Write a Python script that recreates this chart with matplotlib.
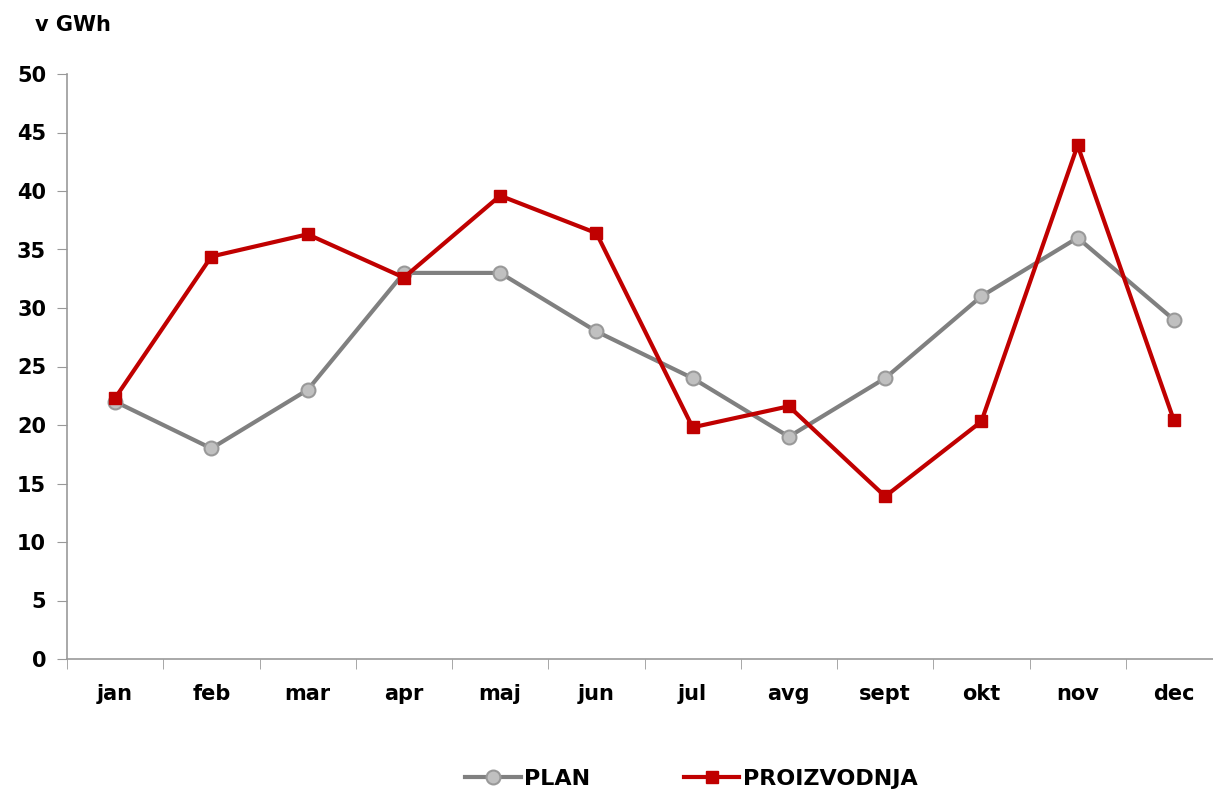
import matplotlib
matplotlib.use("Agg")
import matplotlib.pyplot as plt
import numpy as np

months = ["jan", "feb", "mar", "apr", "maj", "jun", "jul", "avg", "sept", "okt", "nov", "dec"]
plan = [22, 18, 23, 33, 33, 28, 24, 19, 24, 31, 36, 29]
proizvodnja = [22.3, 34.4, 36.3, 32.6, 39.6, 36.4, 19.8, 21.6, 13.9, 20.3, 43.9, 20.4]
yticks = [0, 5, 10, 15, 20, 25, 30, 35, 40, 45, 50]

plt.rcParams['font.family'] = ['DejaVu Sans']
W, H = 1213, 793
fig = plt.figure(figsize=(W/100, H/100), dpi=100)
ax = fig.add_axes([67/W, 1-659/H, (1222-67)/W, (659-74)/H])

x = np.arange(len(months))
ax.plot(x, plan, color="#808080", lw=3, marker="o", markersize=10,
        markerfacecolor="#c0c0c0", markeredgecolor="#999999", markeredgewidth=1.5,
        label="PLAN", zorder=2)
ax.plot(x, proizvodnja, color="#c00000", lw=3, marker="s", markersize=8.5,
        markerfacecolor="#c00000", markeredgecolor="#c00000",
        label="PROIZVODNJA", zorder=3)

ax.set_xlim(-0.5, len(months) - 0.5)
ax.set_ylim(0, 50)
ax.set_yticks(yticks)
ax.set_yticklabels([str(v) for v in yticks], fontsize=15, fontweight="bold")
ax.set_xticks(x)
ax.set_xticklabels(months, fontsize=15, fontweight="bold")
ax.set_xticks(np.arange(-0.5, len(months), 1), minor=True)
ax.tick_params(axis="x", which="major", length=0, pad=18)
ax.tick_params(axis="x", which="minor", length=7, color="#999999", direction="out")
ax.tick_params(axis="y", length=7, color="#999999", direction="out", pad=8)
for s in ["top", "right"]:
    ax.spines[s].set_visible(False)
for s in ["left", "bottom"]:
    ax.spines[s].set_color("#999999")
    ax.spines[s].set_linewidth(1.2)

fig.text(35/W, 1-25/H, "v GWh", fontsize=15, fontweight="bold", va="center", ha="left")

leg = fig.legend(loc="center", bbox_to_anchor=(0.57, 1-779/H), ncol=2, frameon=False,
                 prop={"size": 16, "weight": "bold"}, handlelength=2.5, columnspacing=4.2,
                 handletextpad=0.15)

fig.savefig("out.png", dpi=100)
